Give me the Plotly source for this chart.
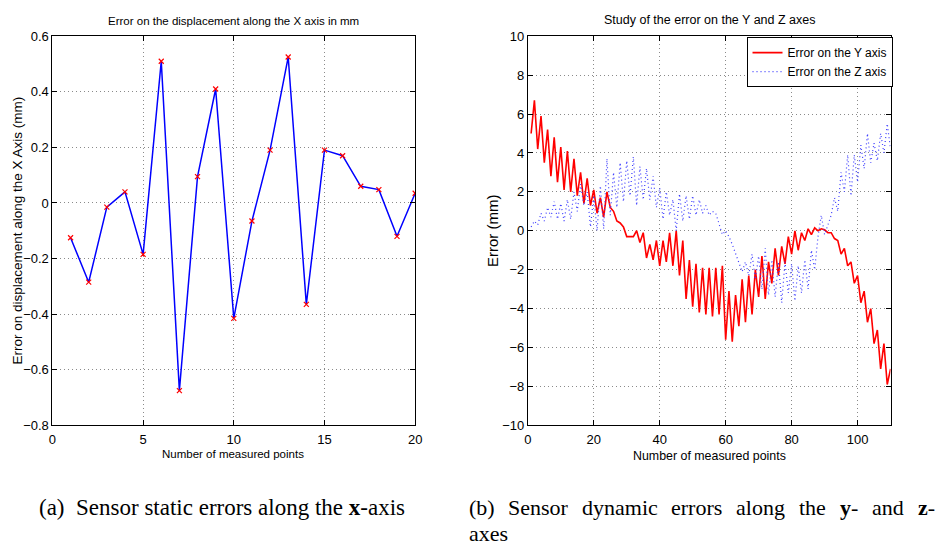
import plotly.graph_objects as go

# ---------------- data ----------------
x_points = list(range(1, 21))
x_error = [-0.125, -0.285, -0.015, 0.04, -0.185, 0.51, -0.675, 0.095, 0.41, -0.415,
           -0.065, 0.19, 0.525, -0.365, 0.19, 0.17, 0.06, 0.048, -0.12, 0.035]

yz_points = list(range(1, 111))
y_error = [5.0, 6.7, 4.2, 5.9, 3.5, 5.2, 2.8, 4.8, 2.5, 4.3,
           2.1, 4.1, 2.0, 3.7, 1.8, 3.0, 1.4, 2.7, 1.3, 2.1,
           0.9, 1.7, 0.7, 2.0, 1.2, 1.0, 0.5, 0.4, 0.2, -0.3,
           -0.3, -0.3, 0.0, -0.6, -0.1, -1.4, -0.7, -1.5, -0.5, -1.8,
           -0.5, -1.6, -0.1, -1.8, 0.0, -2.3, -0.5, -3.5, -1.5, -3.9,
           -1.7, -4.2, -1.9, -4.3, -1.9, -4.4, -1.9, -4.3, -1.8, -5.6,
           -3.1, -5.7, -3.3, -4.9, -2.5, -4.7, -2.3, -4.3, -2.0, -3.4,
           -1.3, -3.5, -1.6, -2.7, -0.9, -2.3, -0.8, -1.7, -0.3, -1.2,
           0.0, -1.0, -0.1, -0.5, 0.1, -0.2, 0.15, 0.0, 0.1, 0.05,
           -0.1, -0.1, -0.4, -0.5, -1.2, -0.9, -1.8, -1.6, -2.7, -2.3,
           -3.7, -3.1, -4.7, -4.0, -5.8, -5.1, -7.1, -5.8, -7.9, -7.1]
z_error = [0.2, 0.5, 0.3, 0.9, 0.5, 1.2, 0.7, 1.5, 0.6, 1.4,
           0.5, 1.6, 0.6, 2.0, 1.0, 2.4, 1.3, 2.0, 0.2, 1.8,
           0.0, 2.3, 0.1, 3.7, 0.8, 3.0, 1.2, 3.5, 1.5, 3.6,
           1.8, 3.8, 1.3, 3.3, 1.6, 3.2, 1.6, 2.8, 1.2, 2.2,
           0.6, 2.0, 0.8, 1.6, 0.0, 1.9, 0.5, 1.8, 0.6, 1.8,
           0.8, 1.6, 0.9, 1.3, 0.8, 1.0, 0.9, 0.4, -0.2, 0.0,
           -0.3, -0.7, -1.2, -1.6, -2.1, -1.6, -2.3, -1.2, -2.5, -1.3,
           -3.0, -0.9, -3.3, -1.5, -3.4, -1.6, -3.7, -1.6, -3.2, -1.7,
           -3.6, -1.8, -3.2, -1.5, -3.0, -1.0, -2.0, -0.3, 0.8, -0.2,
           0.3, 0.8, 1.7, 1.0, 3.0, 2.0, 3.9, 1.8, 3.9, 2.5,
           4.4, 3.2, 5.0, 3.5, 4.5, 3.6, 5.0, 4.0, 5.5, 4.2]

left_xticks = [0, 5, 10, 15, 20]
left_yticks = [-0.8, -0.6, -0.4, -0.2, 0, 0.2, 0.4, 0.6]
right_xticks = [0, 20, 40, 60, 80, 100]
right_yticks = [-10, -8, -6, -4, -2, 0, 2, 4, 6, 8, 10]

caption_a = "(a)  Sensor static errors along the <b>x</b>-axis"
caption_b_words = ["(b)", "Sensor", "dynamic", "errors", "along", "the", "<b>y</b>-", "and", "<b>z</b>-"]
caption_b_line2 = "axes"

# ---------------- figure ----------------
W, H = 943, 554
FONT = "Liberation Sans, Arial, sans-serif"
SERIF = "Liberation Serif, Times New Roman, serif"

fig = go.Figure()
fig.add_trace(go.Scatter(x=x_points, y=x_error, mode="lines+markers",
                         line=dict(color="#0000ff", width=1.5),
                         marker=dict(symbol="x-thin", size=5, color="#ff0000",
                                     line=dict(color="#ff0000", width=1.2)),
                         showlegend=False, xaxis="x", yaxis="y"))
fig.add_trace(go.Scatter(x=yz_points, y=y_error, mode="lines", name="Error on the Y axis",
                         line=dict(color="#ff0000", width=1.6),
                         xaxis="x2", yaxis="y2"))
fig.add_trace(go.Scatter(x=yz_points, y=z_error, mode="lines", name="Error on the Z axis",
                         line=dict(color="#3c3cff", width=1.2, dash="1px,3px"),
                         xaxis="x2", yaxis="y2"))


def px(v):
    return v / W


def py(v):
    return 1 - v / H


axis_common = dict(showline=True, linecolor="black", linewidth=1, mirror="ticks",
                   ticks="inside", ticklen=5, tickcolor="black",
                   showgrid=True, gridcolor="#8a8a8a", griddash="1px,3px", gridwidth=1,
                   zeroline=False, tickfont=dict(family=FONT, size=13, color="black"))

fig.update_layout(
    width=W, height=H,
    margin=dict(l=0, r=0, t=0, b=0),
    paper_bgcolor="white", plot_bgcolor="white",
    xaxis=dict(domain=[px(49), px(416)], range=[0, 20], tickvals=left_xticks,
               anchor="y", ticklabelstandoff=2, **axis_common),
    yaxis=dict(domain=[py(430), py(30)], range=[-0.8, 0.6], tickvals=left_yticks,
               anchor="x", **axis_common),
    xaxis2=dict(domain=[px(530), px(897)], range=[0, 110], tickvals=right_xticks,
                anchor="y2", ticklabelstandoff=2, **axis_common),
    yaxis2=dict(domain=[py(430), py(30)], range=[-10, 10], tickvals=right_yticks,
                anchor="x2", **axis_common),
    legend=dict(x=px(899), y=py(31), xanchor="right", yanchor="top",
                bordercolor="black", borderwidth=1, bgcolor="white",
                font=dict(family=FONT, size=12, color="black"),
                tracegroupgap=0),
    showlegend=True,
)

ann = [
    dict(text="Error on the displacement along the X axis in mm", x=px(232), y=py(14), size=11.5),
    dict(text="Study of the error on the Y and Z axes", x=px(714), y=py(13), size=12.5),
    dict(text="Number of measured points", x=px(232), y=py(459), size=11.5),
    dict(text="Number of measured points", x=px(714), y=py(462), size=12.4),
]
for a in ann:
    fig.add_annotation(text=a["text"], x=a["x"], y=a["y"], xref="paper", yref="paper",
                       xanchor="center", yanchor="middle", showarrow=False,
                       font=dict(family=FONT, size=a["size"], color="black"))
fig.add_annotation(text="Error on displacement along the X Axis (mm)", x=px(14), y=py(230),
                   xref="paper", yref="paper", xanchor="center", yanchor="middle",
                   showarrow=False, textangle=-90,
                   font=dict(family=FONT, size=13.5, color="black"))
fig.add_annotation(text="Error (mm)", x=px(495), y=py(230),
                   xref="paper", yref="paper", xanchor="center", yanchor="middle",
                   showarrow=False, textangle=-90,
                   font=dict(family=FONT, size=15, color="black"))

CAP = 22
fig.add_annotation(text=caption_a, x=px(33), y=py(514),
                   xref="paper", yref="paper", xanchor="left", yanchor="middle",
                   showarrow=False, font=dict(family=SERIF, size=23, color="black"))

# justified first line of caption (b): approximate Times advance widths (em)
tw = {"(": .333, ")": .333, "a": .444, "b": .5, "c": .444, "d": .5, "e": .444, "g": .5,
      "h": .5, "i": .278, "l": .278, "m": .778, "n": .5, "o": .5, "r": .333, "s": .389,
      "t": .278, "y": .5, "z": .444, "-": .333, "S": .556}


def wwidth(w):
    plain = w.replace("<b>", "").replace("</b>", "")
    return sum(tw.get(c, .5) for c in plain) * CAP


left_b, right_b = 468, 940
widths = [wwidth(w) for w in caption_b_words]
gap = (right_b - left_b - sum(widths)) / (len(caption_b_words) - 1)
xpos = left_b
for w, wd in zip(caption_b_words, widths):
    fig.add_annotation(text=w, x=px(xpos), y=py(514), xref="paper", yref="paper",
                       xanchor="left", yanchor="middle", showarrow=False,
                       font=dict(family=SERIF, size=CAP, color="black"))
    xpos += wd + gap
fig.add_annotation(text=caption_b_line2, x=px(468), y=py(541),
                   xref="paper", yref="paper", xanchor="left", yanchor="middle",
                   showarrow=False, font=dict(family=SERIF, size=CAP, color="black"))

fig.write_html("out.html")
